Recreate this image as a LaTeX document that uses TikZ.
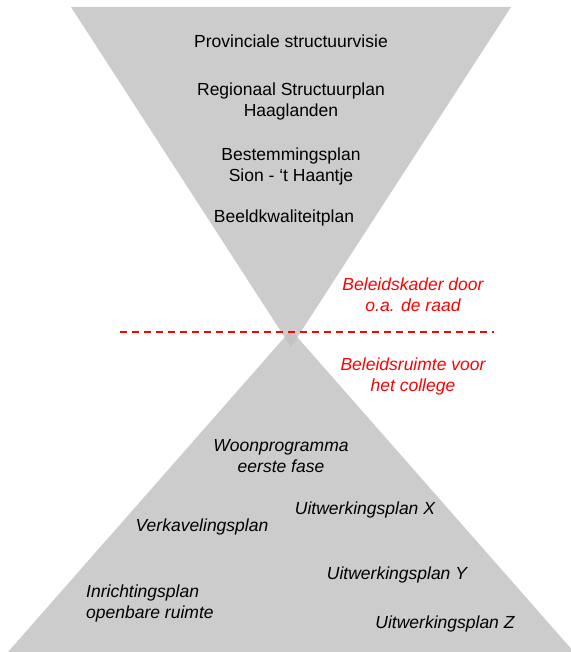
\documentclass[tikz,border=0pt]{standalone}
\usepackage{fontspec}
\setmainfont{Liberation Sans}
\definecolor{trigray}{HTML}{CCCCCC}
\definecolor{overlapgray}{HTML}{C2C2C2}
\definecolor{redtxt}{HTML}{FF0000}
\begin{document}
\begin{tikzpicture}[x=1pt,y=-1pt,
  lbl/.style={font=\fontsize{17.5}{21}\selectfont, align=center, inner sep=0pt, text=black},
  ilbl/.style={font=\fontsize{17.5}{21}\selectfont\itshape, align=center, inner sep=0pt, text=black},
  rlbl/.style={font=\fontsize{17.5}{21}\selectfont\itshape, align=center, inner sep=0pt, text=redtxt},
  trifill/.style={fill=trigray, draw=none},
  divider/.style={draw=redtxt, line width=1.2pt, dash pattern=on 7pt off 5pt}]
\path[use as bounding box] (0,0) rectangle (570,652);
% triangles
\coordinate (tl) at (71,7);
\coordinate (tr) at (511,7);
\coordinate (ta) at (291,347);
\coordinate (ba) at (291,330);
\coordinate (bl) at (8,652);
\coordinate (br) at (574,652);
\fill[trifill] (tl) -- (tr) -- (ta) -- cycle;
\fill[trifill] (ba) -- (bl) -- (br) -- cycle;
\begin{scope}
  \clip (tl) -- (tr) -- (ta) -- cycle;
  \fill[overlapgray] (ba) -- (bl) -- (br) -- cycle;
\end{scope}
% divider
\coordinate (dl) at (120,332);
\coordinate (dr) at (494,332);
\draw[divider] (dl) -- (dr);
% top labels
\node[lbl] (prov) at (291,41) {Provinciale structuurvisie};
\node[lbl] (reg) at (291,101) {Regionaal Structuurplan\\Haaglanden};
\node[lbl] (best) at (291,166) {Bestemmingsplan\\Sion - ‘t Haantje};
\node[lbl] (beeld) at (284,218) {Beeldkwaliteitplan};
% red labels
\node[rlbl] (kader) at (413,295) {Beleidskader door\\o.a. de raad};
\node[rlbl] (ruimte) at (413,376) {Beleidsruimte voor\\het college};
% bottom labels
\node[ilbl] (woon) at (281,456) {Woonprogramma\\eerste fase};
\node[ilbl] (uitx) at (365,510) {Uitwerkingsplan X};
\node[ilbl] (verk) at (202,527) {Verkavelingsplan};
\node[ilbl] (uity) at (397,575) {Uitwerkingsplan Y};
\node[ilbl, align=left, anchor=west] (inr) at (86,603) {Inrichtingsplan\\openbare ruimte};
\node[ilbl] (uitz) at (445,624) {Uitwerkingsplan Z};
\end{tikzpicture}
\end{document}
